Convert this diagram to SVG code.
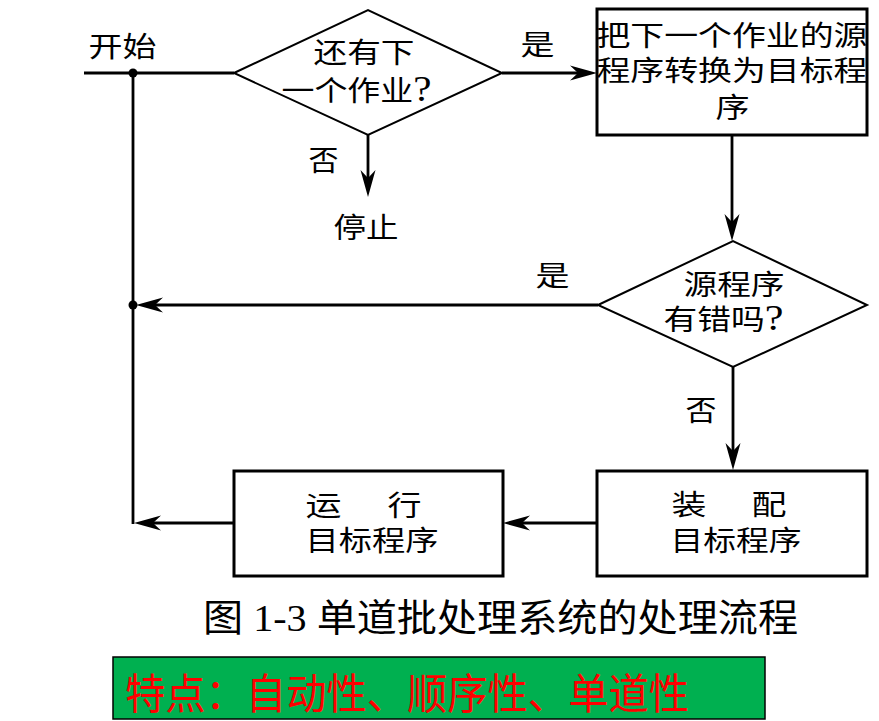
<svg xmlns="http://www.w3.org/2000/svg" width="879" height="721" viewBox="0 0 879 721">
<style>
.t{font-family:"Liberation Serif","Noto Sans CJK SC",serif;font-size:28px;fill:#000}
.q{font-size:35px}
.box{fill:#fff;stroke:#000;stroke-width:3}
.dia{fill:#fff;stroke:#000;stroke-width:2}
.ln{fill:none;stroke:#000;stroke-width:2.8}
.arr{fill:none;stroke:#000;stroke-width:2.8;marker-end:url(#ah)}
</style>
<defs>
<marker id="ah" markerUnits="userSpaceOnUse" viewBox="-30 -9 32 18" markerWidth="32" markerHeight="18" refX="-12" refY="0" orient="auto">
<path d="M0,0 L-27,-7.5 L-19,0 L-27,7.5 Z" fill="#000"/>
</marker>
</defs>
<rect width="879" height="721" fill="#fff"/>
<g id="connectors">
<line class="ln" x1="84" y1="73" x2="234" y2="73"/>
<line class="ln" x1="133" y1="73" x2="133" y2="524"/>
<line class="arr" x1="502" y1="73" x2="585" y2="73"/>
<line class="arr" x1="368" y1="135" x2="368" y2="185"/>
<line class="arr" x1="732" y1="135" x2="732" y2="229"/>
<line class="arr" x1="598" y1="305" x2="148" y2="305"/>
<line class="arr" x1="733" y1="367" x2="733" y2="458"/>
<line class="arr" x1="597" y1="523" x2="515" y2="523"/>
<line class="arr" x1="234" y1="523" x2="146" y2="523"/>
<circle cx="133" cy="73" r="4.5" fill="#000"/>
<circle cx="133" cy="305" r="4.5" fill="#000"/>
<text class="t" x="88.5" y="57" textLength="68" lengthAdjust="spacingAndGlyphs">开始</text>
<text class="t" x="520.5" y="55" textLength="34" lengthAdjust="spacingAndGlyphs">是</text>
<text class="t" x="308.5" y="171" textLength="30" lengthAdjust="spacingAndGlyphs">否</text>
<text class="t" x="535.5" y="286" textLength="34" lengthAdjust="spacingAndGlyphs">是</text>
<text class="t" x="685.5" y="421" textLength="31" lengthAdjust="spacingAndGlyphs">否</text>
</g>
<g id="decision1">
<polygon class="dia" points="234,73 368,10 502,73 368,135"/>
<text class="t" x="313.5" y="63" textLength="101" lengthAdjust="spacingAndGlyphs">还有下</text>
<text class="t" x="281.5" y="101" textLength="150" lengthAdjust="spacingAndGlyphs">一个作业<tspan class="q">?</tspan></text>
</g>
<g id="stop">
<text class="t" x="333.5" y="238" textLength="65" lengthAdjust="spacingAndGlyphs">停止</text>
</g>
<g id="compile">
<rect class="box" x="597" y="9" width="270" height="126"/>
<text class="t" x="596.5" y="46" textLength="271" lengthAdjust="spacingAndGlyphs">把下一个作业的源</text>
<text class="t" x="596.5" y="81" textLength="271" lengthAdjust="spacingAndGlyphs">程序转换为目标程</text>
<text class="t" x="715.5" y="118" textLength="34" lengthAdjust="spacingAndGlyphs">序</text>
</g>
<g id="decision2">
<polygon class="dia" points="598,305 733,241 867,305 733,367"/>
<text class="t" x="683.5" y="295" textLength="101" lengthAdjust="spacingAndGlyphs">源程序</text>
<text class="t" x="663.5" y="330" textLength="120" lengthAdjust="spacingAndGlyphs">有错吗<tspan class="q">?</tspan></text>
</g>
<g id="load">
<rect class="box" x="597" y="471" width="270" height="105"/>
<text class="t" x="671.5" y="515" textLength="35" lengthAdjust="spacingAndGlyphs">装</text>
<text class="t" x="751.5" y="515" textLength="35" lengthAdjust="spacingAndGlyphs">配</text>
<text class="t" x="670.5" y="551" textLength="131" lengthAdjust="spacingAndGlyphs">目标程序</text>
</g>
<g id="run">
<rect class="box" x="234" y="471" width="269" height="105"/>
<text class="t" x="305.5" y="516" textLength="36" lengthAdjust="spacingAndGlyphs">运</text>
<text class="t" x="387.5" y="516" textLength="34" lengthAdjust="spacingAndGlyphs">行</text>
<text class="t" x="305.5" y="551" textLength="133" lengthAdjust="spacingAndGlyphs">目标程序</text>
</g>
<g id="caption">
<text class="t" x="203" y="631" style="font-size:38px" textLength="595" lengthAdjust="spacingAndGlyphs">图 1-3 单道批处理系统的处理流程</text>
</g>
<g id="features">
<rect x="113" y="657" width="652" height="62" fill="#00B050" stroke="#000" stroke-width="1.5"/>
<text class="t" x="125" y="709" style="font-size:42px;fill:#FF0000" textLength="564" lengthAdjust="spacingAndGlyphs">特点：自动性、顺序性、单道性</text>
</g>
</svg>
